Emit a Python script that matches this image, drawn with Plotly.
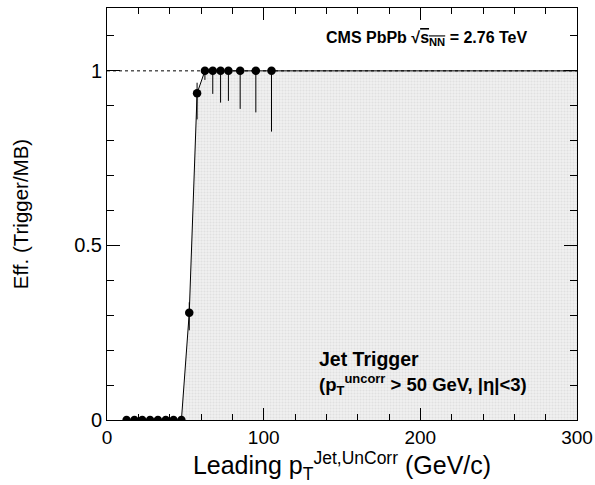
import plotly.graph_objects as go

# Data
pt = [12.5, 17.5, 22.5, 27.5, 32.5, 37.5, 42.5, 47.5, 52.5, 57.5,
      62.5, 67.5, 72.5, 77.5, 85.0, 95.0, 105.0]
eff = [0, 0, 0, 0, 0, 0, 0, 0, 0.307, 0.936,
       1, 1, 1, 1, 1, 1, 1]
err_up = [0, 0, 0, 0, 0, 0, 0, 0, 0.03, 0.03,
          0, 0, 0, 0, 0, 0, 0]
err_dn = [0, 0, 0, 0, 0, 0, 0, 0, 0.05, 0.075,
          0.026, 0.066, 0.091, 0.086, 0.109, 0.119, 0.174]
x_max = 300
plateau = 1.0

x_ticks = [0, 100, 200, 300]
y_ticks = [0, 0.5, 1]
y_tick_text = ["0", "0.5", "1"]

FONT = "Liberation Sans, Arial, Helvetica, sans-serif"

fig = go.Figure()

# shaded efficiency area (curve continued at plateau to the axis end)
fig.add_trace(go.Scatter(
    x=pt + [x_max], y=eff + [plateau],
    mode="lines", line=dict(color="black", width=1),
    fill="tozeroy", fillcolor="#ebebeb",
    fillpattern=dict(shape=".", fgcolor="#d2d2d2", bgcolor="#efefef", size=3, solidity=0.35),
    hoverinfo="skip", showlegend=False))

# dashed reference line at plateau
fig.add_trace(go.Scatter(
    x=[0, x_max], y=[plateau, plateau], mode="lines",
    line=dict(color="black", width=1, dash="3px,3px"),
    hoverinfo="skip", showlegend=False))

# data points
fig.add_trace(go.Scatter(
    x=pt, y=eff, mode="markers",
    marker=dict(color="black", size=8.5, symbol="circle"),
    error_y=dict(type="data", symmetric=False, array=err_up, arrayminus=err_dn,
                 color="black", thickness=1, width=0),
    showlegend=False))

axis_common = dict(
    showgrid=False, zeroline=False, showline=True, linecolor="black", linewidth=1,
    mirror="ticks", ticks="inside", tickcolor="black", tickwidth=1,
    automargin=False,
)

fig.update_xaxes(
    range=[0, x_max], tickvals=x_ticks, ticklen=12,
    tickfont=dict(family=FONT, size=19, color="black"),
    minor=dict(dtick=20, ticklen=6, ticks="inside", tickcolor="black", tickwidth=1),
    title=dict(text="Leading p<sub>T</sub><sup>Jet,UnCorr</sup> (GeV/c)",
               font=dict(family=FONT, size=25, color="black"), standoff=1),
    **axis_common)

fig.update_yaxes(
    range=[0, 1.18], tickvals=y_ticks, ticktext=y_tick_text, ticklen=13,
    tickfont=dict(family=FONT, size=20, color="black"),
    minor=dict(dtick=0.1, ticklen=7, ticks="inside", tickcolor="black", tickwidth=1),
    title=dict(text="Eff. (Trigger/MB)",
               font=dict(family=FONT, size=20.5, color="black"), standoff=40),
    **axis_common)

fig.add_annotation(
    xref="paper", yref="paper", x=0.9, y=0.927, xanchor="right", yanchor="middle",
    text="<b>CMS PbPb √<span style='text-decoration:overline'>s<sub>NN</sub></span> = 2.76 TeV</b>",
    showarrow=False, font=dict(family=FONT, size=16, color="black"))

fig.add_annotation(
    xref="paper", yref="paper", x=0.446, y=0.147, xanchor="left", yanchor="middle",
    text="<b>Jet Trigger</b>",
    showarrow=False, font=dict(family=FONT, size=19.5, color="black"))

fig.add_annotation(
    xref="paper", yref="paper", x=0.446, y=0.086, xanchor="left", yanchor="middle",
    text="<b>(p<sub>T</sub><sup>uncorr</sup> > 50 GeV, |η|<3)</b>",
    showarrow=False, font=dict(family=FONT, size=18.5, color="black"))

fig.update_layout(
    width=595, height=485,
    margin=dict(l=107, r=18, t=8, b=64.5),
    paper_bgcolor="white", plot_bgcolor="white",
    font=dict(family=FONT, color="black"),
)

# remove the default page margin so the figure fills the window exactly
fig.write_html(
    "out.html",
    config={"displayModeBar": False},
    post_script="document.body.style.margin='0';document.body.style.overflow='hidden';",
)
